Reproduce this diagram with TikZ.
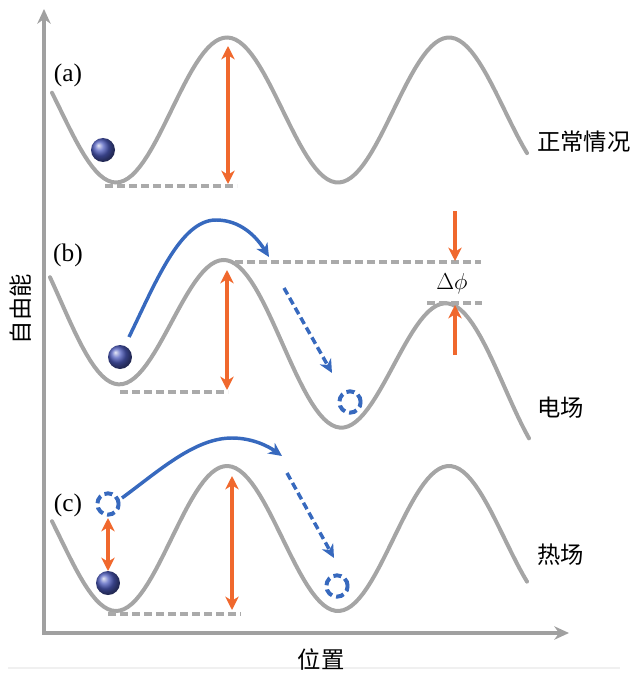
\documentclass[tikz,border=0pt]{standalone}
\usepackage{fontspec}
\setmainfont{Liberation Serif}
\newfontfamily\cjk{Noto Sans CJK SC}
\usetikzlibrary{arrows.meta}
\definecolor{curvegray}{RGB}{165,165,165}
\definecolor{axisgray}{RGB}{160,160,160}
\definecolor{dashgray}{RGB}{170,170,170}
\definecolor{orng}{RGB}{240,104,45}
\definecolor{blu}{RGB}{55,105,190}
\definecolor{ballc}{RGB}{78,92,190}
\begin{document}
\begin{tikzpicture}[x=0.75pt,y=-0.75pt,
  curve/.style={curvegray, line width=3pt, line cap=round},
  axisline/.style={axisgray, line width=2.8pt, {Stealth[length=11pt,width=10pt,inset=3.5pt]}-{Stealth[length=11pt,width=10pt,inset=3.5pt]}},
  level/.style={dashgray, line width=2.6pt, dash pattern=on 6pt off 3pt},
  barrier/.style={orng, line width=2.7pt, {Stealth[length=10pt,width=10pt,inset=3pt]}-{Stealth[length=10pt,width=10pt,inset=3pt]}},
  push/.style={orng, line width=2.7pt, -{Stealth[length=10pt,width=10pt,inset=3pt]}},
  hop/.style={blu, line width=2.6pt, -{Stealth[length=10pt,width=9.5pt,inset=3pt]}},
  hopd/.style={hop, dash pattern=on 5.5pt off 3pt},
  atom/.style={circle, inner sep=0pt, minimum size=18pt, shading=ball, ball color=ballc},
  ghost/.style={circle, inner sep=0pt, minimum size=16pt, draw=blu, line width=3pt, dash pattern=on 6pt off 3.2pt},
  cjklab/.style={font=\cjk\fontsize{17.5}{20}\selectfont, inner sep=0pt},
  tag/.style={font=\fontsize{19}{22}\selectfont, inner sep=0pt}]
\useasboundingbox (0,0) rectangle (640,684);

% faint baseline
\draw[gray!12, line width=0.8pt] (8,668) -- (620,668);

% axes
\coordinate (ytop) at (44,9);
\coordinate (orig) at (44,633);
\coordinate (xend) at (569,633);
\draw[axisline] (ytop) -- (orig) -- (xend);
\node[cjklab, rotate=90] (ylab) at (21,309) {自由能};
\node[cjklab] (xlab) at (321,660) {位置};

% ---------- (a) ----------
\draw[curve] plot[domain=52:527, samples=120] (\x, {110 - 72.5*cos(1.62162*(\x-227))});
\node[tag] (ta) at (68,75) {(a)};
\node[cjklab, anchor=west] (la) at (537,142) {正常情况};
\node[atom] (balla) at (103,150) {};
\coordinate (a1) at (105,186); \coordinate (a2) at (237,186);
\draw[level] (a1) -- (a2);
\coordinate (ab1) at (228,46); \coordinate (ab2) at (228,184);
\draw[barrier] (ab1) -- (ab2);

% ---------- (b) ----------
\draw[curve] plot[domain=50:529, samples=120] (\x, {333 - 72.7*cos(1.62162*(\x-227)) + 0.195*(\x-227)});
\node[tag] (tb) at (68,255) {(b)};
\node[cjklab, anchor=west] (lb) at (537,408) {电场};
\node[atom] (ballb) at (120,357) {};
\node[ghost] (ghostb) at (350,402) {};
\coordinate (b1) at (120,392); \coordinate (b2) at (228,392);
\draw[level] (b1) -- (b2);
\coordinate (b3) at (235,262); \coordinate (b4) at (481,262);
\draw[level] (b3) -- (b4);
\coordinate (b5) at (427,303); \coordinate (b6) at (482,303);
\draw[level] (b5) -- (b6);
\coordinate (bb1) at (227,270); \coordinate (bb2) at (227,390);
\draw[barrier] (bb1) -- (bb2);
\coordinate (pd1) at (455,211); \coordinate (pd2) at (455,261);
\draw[push] (pd1) -- (pd2);
\coordinate (pu1) at (455,355); \coordinate (pu2) at (455,305);
\draw[push] (pu1) -- (pu2);
\node[inner sep=0pt, font=\fontsize{19}{22}\selectfont] (dphi) at (452,284) {$\Delta\phi$};
\coordinate (hb0) at (129,337); \coordinate (hbp) at (216,220); \coordinate (hb1) at (269,257);
\draw[hop] (hb0) .. controls (155,284) and (180,220) .. (hbp) .. controls (240,220) and (256,236) .. (hb1);
\coordinate (db0) at (284,288); \coordinate (db1) at (332,373);
\draw[hopd] (db0) -- (db1);

% ---------- (c) ----------
\draw[curve] plot[domain=52:527, samples=120] (\x, {538.5 - 72.5*cos(1.62162*(\x-227))});
\node[tag] (tc) at (68,505) {(c)};
\node[cjklab, anchor=west] (lc) at (537,555) {热场};
\node[atom] (ballc1) at (108,583) {};
\node[ghost] (ghostc1) at (108,504) {};
\node[ghost] (ghostc2) at (337,586) {};
\coordinate (cs1) at (108,518); \coordinate (cs2) at (108,571);
\draw[barrier] (cs1) -- (cs2);
\coordinate (c1) at (108,614); \coordinate (c2) at (241,614);
\draw[level] (c1) -- (c2);
\coordinate (cb1) at (232,476); \coordinate (cb2) at (232,610);
\draw[barrier] (cb1) -- (cb2);
\coordinate (hc0) at (122,498); \coordinate (hcp) at (232,438); \coordinate (hc1) at (282,456);
\draw[hop] (hc0) .. controls (160,470) and (195,438) .. (hcp) .. controls (252,438) and (268,446) .. (hc1);
\coordinate (dc0) at (287,473); \coordinate (dc1) at (334,558);
\draw[hopd] (dc0) -- (dc1);
\end{tikzpicture}
\end{document}
